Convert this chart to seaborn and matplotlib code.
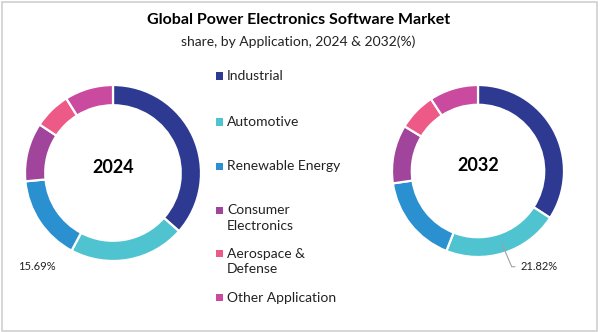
import matplotlib
matplotlib.use("Agg")
import matplotlib.pyplot as plt
import seaborn as sns
from matplotlib.patches import Rectangle

categories = ["Industrial", "Automotive", "Renewable Energy",
              "Consumer Electronics", "Aerospace & Defense", "Other Application"]
legend_labels = ["Industrial", "Automotive", "Renewable Energy",
                 "Consumer\nElectronics", "Aerospace &\nDefense", "Other Application"]
share_2024 = [36.5, 21.3, 15.69, 10.8, 6.8, 8.91]
share_2032 = [34.18, 21.82, 16.7, 11.0, 7.1, 9.2]
years = ["2024", "2032"]
colors = ["#2E3A92", "#4FC4D0", "#2A90D0", "#A1449B", "#EE5A87", "#C94A9F"]

sns.set_theme(style="white")
plt.rcParams['font.family'] = ['Lato', 'DejaVu Sans']

W, H = 600, 332
fig = plt.figure(figsize=(6, 3.32), dpi=100)
fig.patch.set_facecolor("white")

PAD = 1.3


def px_axes(cx, cy, r):
    half = r * PAD
    ax = fig.add_axes([(cx - half) / W, (H - cy - half) / H, 2 * half / W, 2 * half / H])
    return ax


def donut(ax, values, year):
    ax.pie(values, colors=colors, startangle=90, counterclock=False, radius=1.0,
           wedgeprops=dict(width=0.23, edgecolor="white", linewidth=1.6))
    ax.set_xlim(-PAD, PAD)
    ax.set_ylim(-PAD, PAD)
    ax.set_aspect("equal")
    ax.axis("off")
    ax.text(0, 0.06, year, ha="center", va="center", fontsize=13,
            fontweight="bold", color="black")


ax1 = px_axes(113, 173, 88)
donut(ax1, share_2024, years[0])
ax1.text(-1.08, -1.068, f"{share_2024[2]:.2f}%", ha="left", va="center",
         fontsize=8, color="#222222", clip_on=False)

ax2 = px_axes(478, 171, 86)
donut(ax2, share_2032, years[1])
ax2.plot([0.276, 0.392, 0.430], [-0.841, -1.113, -1.113], color="#A0A0A0", lw=0.8,
         clip_on=False)
ax2.text(0.49, -1.113, f"{share_2032[1]:.2f}%", ha="left", va="center",
         fontsize=8, color="#222222", clip_on=False)

# legend
legend_y = [76, 122, 166, 210, 253, 297]
for lab, col, y in zip(legend_labels, colors, legend_y):
    fig.add_artist(Rectangle((216 / W, (H - y - 3.5) / H), 7 / W, 7 / H,
                             transform=fig.transFigure, facecolor=col, edgecolor="none"))
    fig.text(227 / W, (H - y + 5.5) / H, lab, ha="left", va="top", fontsize=10,
             color="#222222", linespacing=1.35, transform=fig.transFigure)

fig.text(0.497, (H - 20) / H, "Global Power Electronics Software Market",
         ha="center", va="center", fontsize=11.5, fontweight="bold", color="black")
fig.text(0.497, (H - 42) / H, "share, by Application, 2024 & 2032(%)",
         ha="center", va="center", fontsize=10, color="#222222")

fig.add_artist(Rectangle((1.5 / W, 1.5 / H), 595 / W, 329 / H, transform=fig.transFigure,
                         facecolor="none", edgecolor="#D0D0D0", lw=1.2))

fig.savefig("out.png", dpi=100, facecolor="white")
